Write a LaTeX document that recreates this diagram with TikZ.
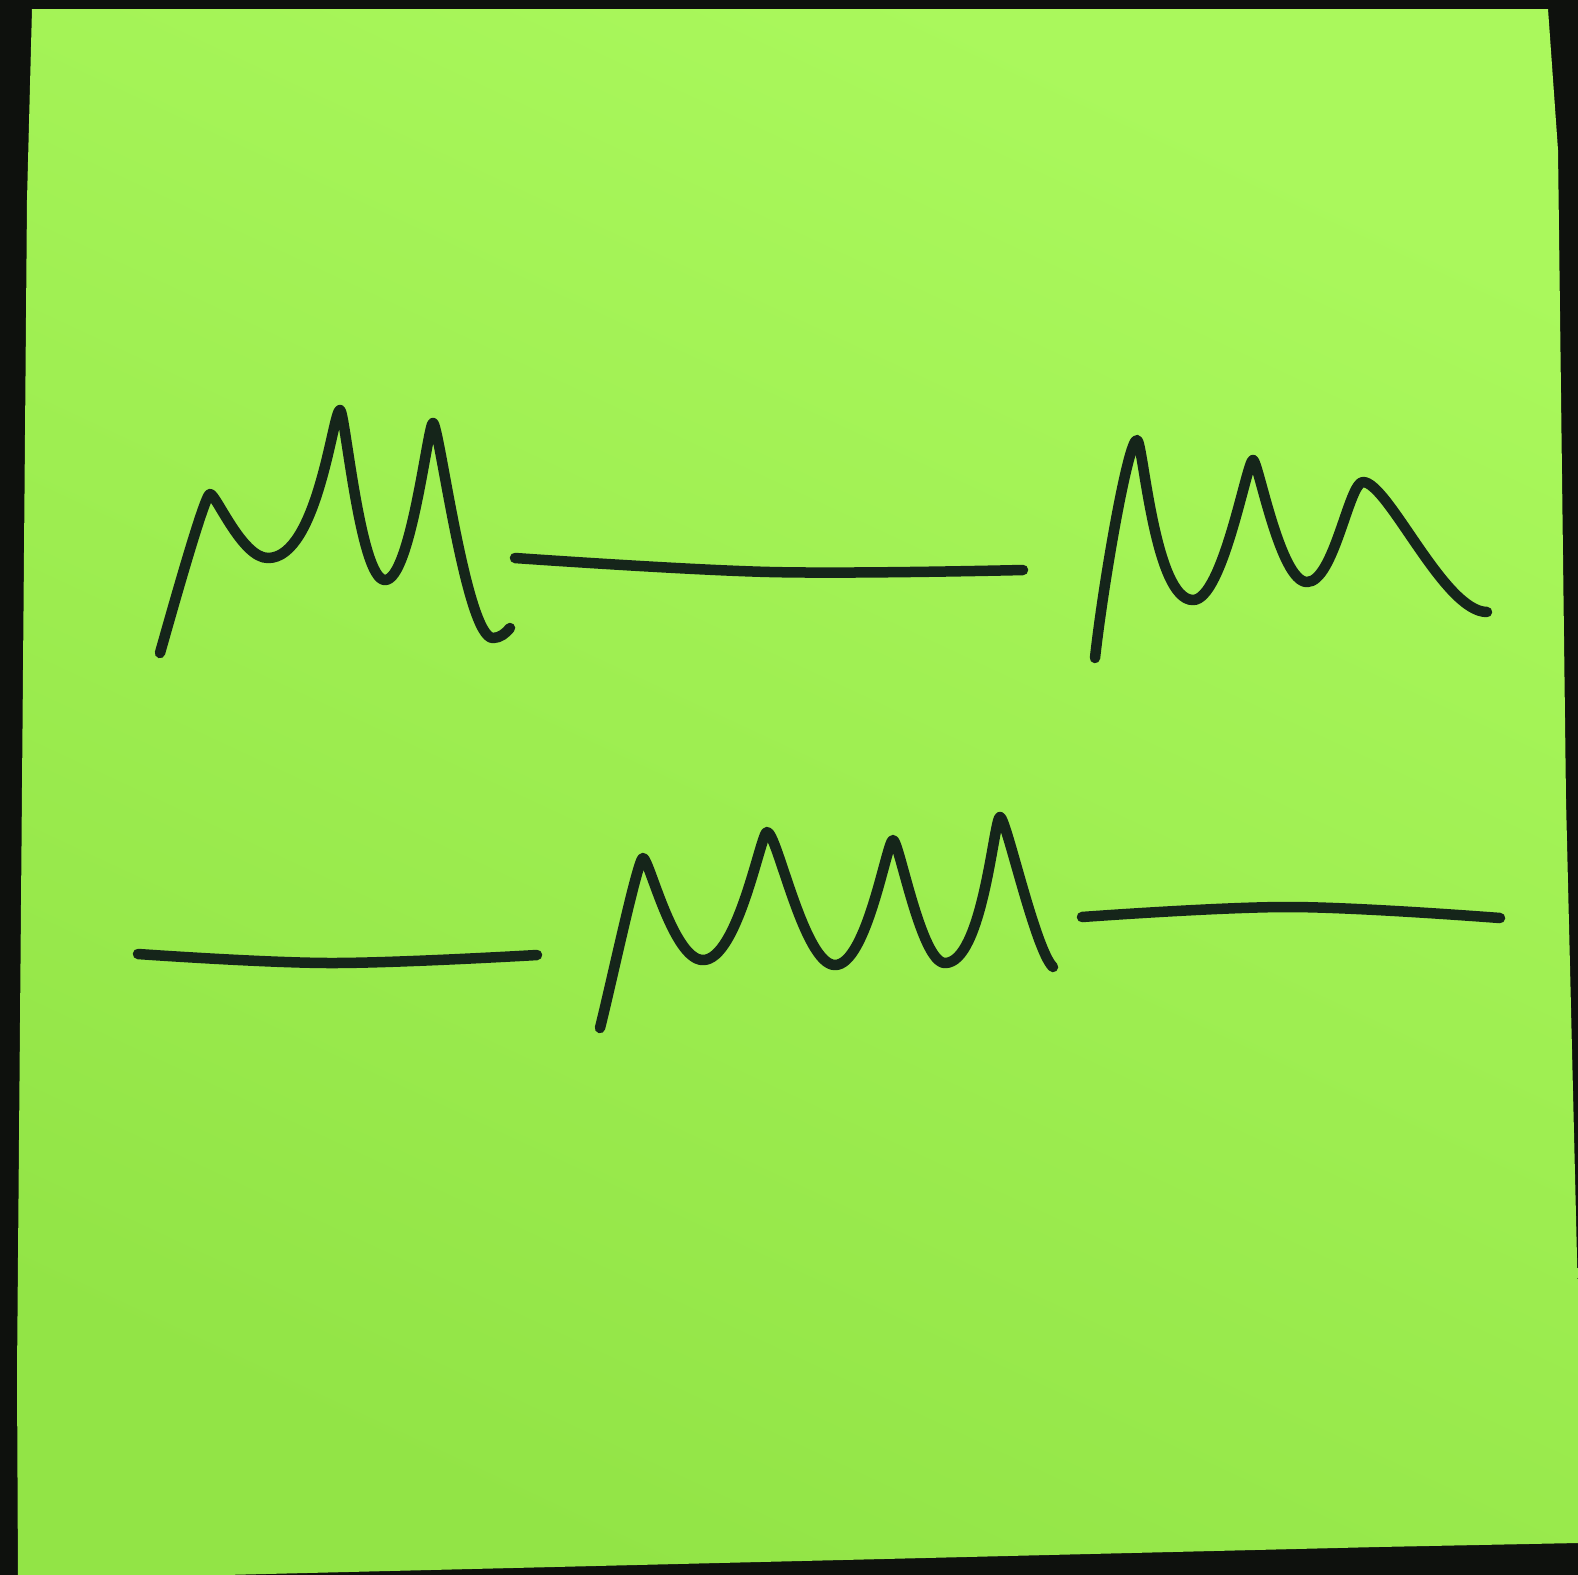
\documentclass[tikz,border=0pt]{standalone}
\usetikzlibrary{calc}
\definecolor{frame}{HTML}{0E110D}
\definecolor{notetop}{HTML}{AAF85C}
\definecolor{notebot}{HTML}{92E446}
\definecolor{ink}{HTML}{15251A}
\tikzset{
  inkline/.style={draw=ink, line width=0.105cm, line cap=round, line join=round},
  wave/.style={inkline, smooth, tension=0.6}
}
\begin{document}
\begin{tikzpicture}[x=0.01cm,y=-0.01cm]
\useasboundingbox (0,0) rectangle (1578,1575);
\fill[frame] (0,0) rectangle (1578,1575);
% sticky note
\shade[top color=notetop, bottom color=notebot, shading angle=-25]
  (32,9) -- (1548,9) -- (1558,150) -- (1566,800) -- (1578,1300) -- (1578,1543)
  -- (1378,1547) -- (18,1580) -- (17,1375) -- (27,200) -- cycle;
% top-left wave
\draw[inkline] (160,653) .. controls (175,600) and (205,494) .. (210,494)
  .. controls (216,494) and (242,558) .. (268,558)
  .. controls (318,558) and (333,410) .. (340,410)
  .. controls (345,410) and (360,580) .. (385,580)
  .. controls (411,580) and (428,423) .. (433,423)
  .. controls (439,423) and (466,638) .. (493,638)
  .. controls (500,638) and (506,633) .. (510,628);
% top flat line
\draw[wave] plot coordinates {(515,558) (770,572) (1023,570)};
% top-right wave
\draw[inkline] (1095,658) .. controls (1103,585) and (1128,440) .. (1137,440)
  .. controls (1143,440) and (1154,600) .. (1193,600)
  .. controls (1223,600) and (1247,460) .. (1253,460)
  .. controls (1258,460) and (1280,582) .. (1307,582)
  .. controls (1334,582) and (1349,482) .. (1363,482)
  .. controls (1388,482) and (1444,612) .. (1487,612);
% bottom-left flat line
\draw[wave] plot coordinates {(138,954) (330,963) (537,955)};
% bottom wave
\draw[inkline] (600,1028) .. controls (612,980) and (638,858) .. (643,858)
  .. controls (649,858) and (673,960) .. (703,960)
  .. controls (738,960) and (761,832) .. (767,832)
  .. controls (777,832) and (804,965) .. (835,965)
  .. controls (867,965) and (887,840) .. (893,840)
  .. controls (899,840) and (921,963) .. (945,963)
  .. controls (983,963) and (994,817) .. (1000,817)
  .. controls (1006,817) and (1035,950) .. (1053,967);
% bottom-right flat line
\draw[wave] plot coordinates {(1082,917) (1290,907) (1500,918)};
\end{tikzpicture}
\end{document}
